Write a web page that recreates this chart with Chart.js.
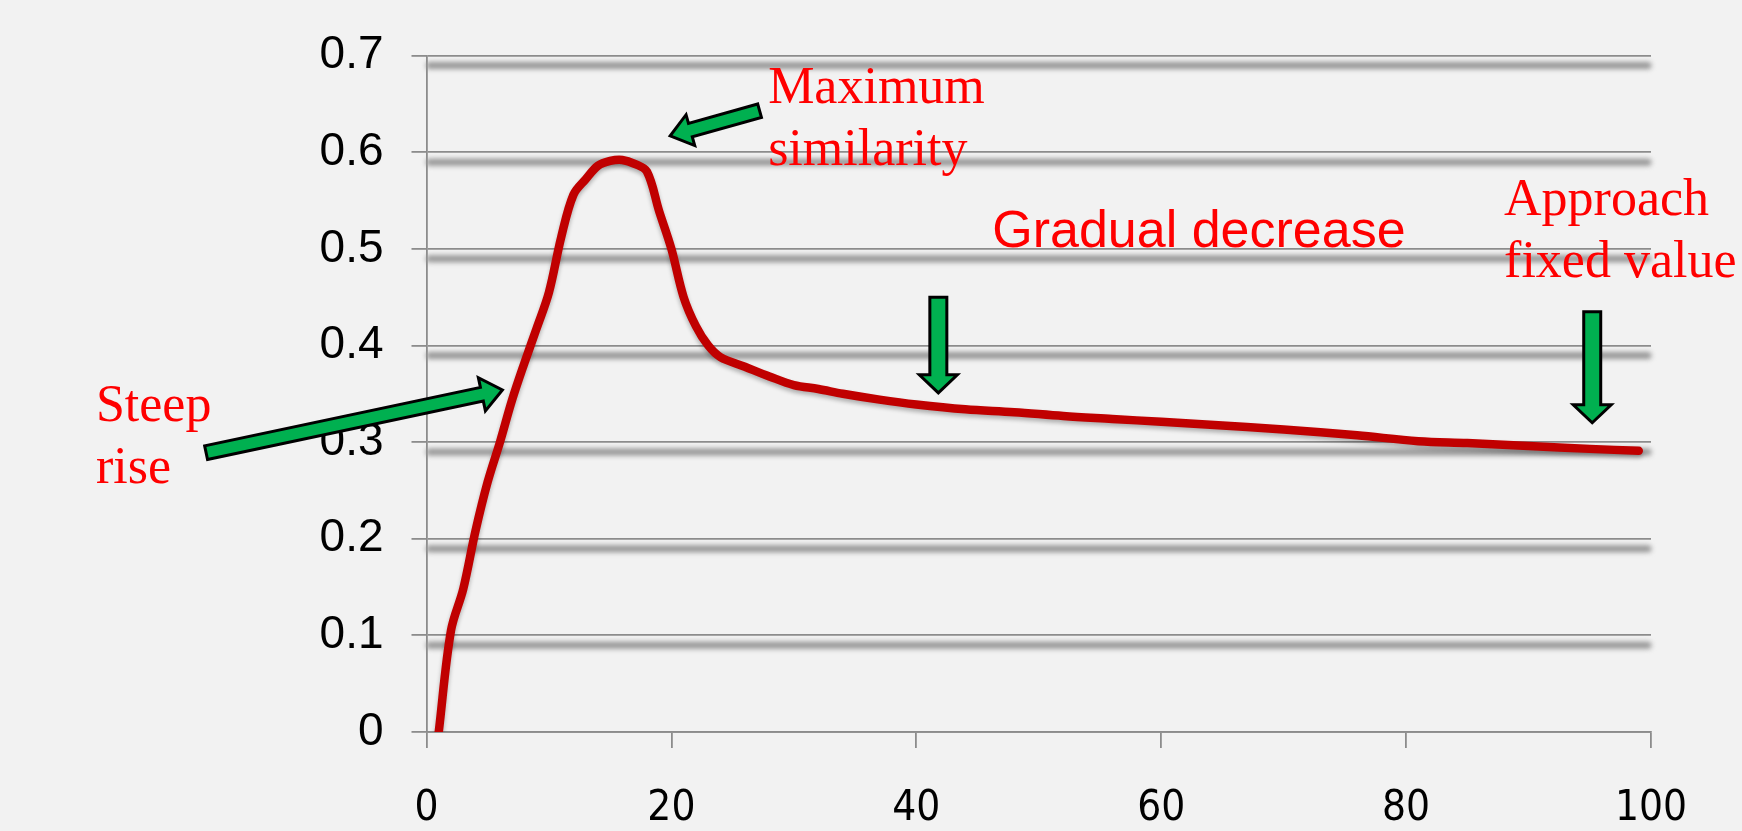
<!DOCTYPE html>
<html>
<head>
<meta charset="utf-8">
<script src="https://cdn.jsdelivr.net/npm/chart.js@4.4.0/dist/chart.umd.min.js"></script>
<style>
  html, body { margin: 0; padding: 0; background: #f2f2f2; }
  #wrap { width: 1742px; height: 831px; }
</style>
</head>
<body>
<div id="wrap"><canvas id="ch_similarity" width="1742" height="831"></canvas></div>
<script>
// x positions along the curve and the similarity read at each one
const xValues = [1, 2, 3, 4, 5, 6, 7, 8, 9, 10, 11, 12, 13, 14, 15, 16, 17, 18, 19, 20,
                 21, 22, 23, 24, 26, 28, 30, 32, 34, 37, 40, 44, 48, 52, 56, 60, 64, 70,
                 76, 81, 85, 90, 95, 99];
const similarity = [0, 0.105, 0.148, 0.208, 0.259, 0.300, 0.344, 0.382, 0.418, 0.455,
                    0.512, 0.556, 0.572, 0.586, 0.591, 0.592, 0.588, 0.580, 0.539, 0.500,
                    0.450, 0.420, 0.400, 0.388, 0.378, 0.368, 0.359, 0.355, 0.350, 0.344,
                    0.339, 0.334, 0.331, 0.327, 0.324, 0.321, 0.318, 0.313, 0.307, 0.301,
                    0.299, 0.296, 0.293, 0.291];

const xTickLabels = ['0', '20', '40', '60', '80', '100'];
const yTickLabels = ['0', '0.1', '0.2', '0.3', '0.4', '0.5', '0.6', '0.7'];

const LINE_RED = '#c00000';
const NOTE_RED = '#ff0000';
const GREEN    = '#00b050';
const GRID     = '#8c8c8c';
const SERIF    = '"Liberation Serif", "Times New Roman", serif';
const SANS     = '"Liberation Sans", Arial, sans-serif';
const NARROW   = '"DejaVu Sans Condensed", "Liberation Sans Narrow", sans-serif';

// annotation text, anchored in data units (left edge / first baseline)
const notes = [
  { lines: ['Maximum', 'similarity'],   x: 27.9,  y: 0.651, font: SERIF },
  { lines: ['Gradual decrease'],        x: 46.2,  y: 0.502, font: SANS },
  { lines: ['Approach', 'fixed value'], x: 88.0,  y: 0.535, font: SERIF },
  { lines: ['Steep', 'rise'],           x: -27.0, y: 0.322, font: SERIF }
];
const LINE_GAP = 0.0645;

// green block arrows: tail -> tip in data units, sizes in px
const arrows = [
  { from: [27.2, 0.643], to: [19.9, 0.617], shaft: 14, head: 32, len: 21 },
  { from: [-18.0, 0.289], to: [6.2, 0.354], shaft: 14, head: 34, len: 21 },
  { from: [41.8, 0.450], to: [41.8, 0.351], shaft: 17, head: 38, len: 18 },
  { from: [95.2, 0.435], to: [95.2, 0.320], shaft: 17, head: 38, len: 18 }
];

/* ── helpers ─────────────────────────────────────────────────── */
function blockArrow(ctx, x0, y0, x1, y1, shaft, head, headLen) {
  const dx = x1 - x0, dy = y1 - y0, L = Math.hypot(dx, dy);
  const ux = dx / L, uy = dy / L, nx = -uy, ny = ux;
  const bx = x1 - ux * headLen, by = y1 - uy * headLen;
  const s = shaft / 2, h = head / 2;
  const pts = [
    [x0 + nx * s, y0 + ny * s], [bx + nx * s, by + ny * s], [bx + nx * h, by + ny * h],
    [x1, y1],
    [bx - nx * h, by - ny * h], [bx - nx * s, by - ny * s], [x0 - nx * s, y0 - ny * s]
  ];
  ctx.beginPath();
  pts.forEach((p, i) => i ? ctx.lineTo(p[0], p[1]) : ctx.moveTo(p[0], p[1]));
  ctx.closePath();
  ctx.fillStyle = GREEN;
  ctx.fill();
  ctx.lineWidth = 3;
  ctx.lineJoin = 'miter';
  ctx.strokeStyle = '#000';
  ctx.stroke();
}

// soft grey band under each horizontal gridline
const gridShadow = {
  id: 'gridShadow',
  beforeDatasetsDraw(chart) {
    const { ctx, chartArea: a, scales: { y } } = chart;
    ctx.save();
    ctx.filter = 'blur(2.5px)';
    ctx.strokeStyle = '#969696';
    ctx.lineWidth = 7;
    ctx.lineCap = 'round';
    y.ticks.forEach(t => {
      if (t.value === 0) return;
      const py = y.getPixelForValue(t.value) + 10;
      ctx.beginPath();
      ctx.moveTo(a.left + 3, py);
      ctx.lineTo(a.right - 3, py);
      ctx.stroke();
    });
    ctx.restore();
  }
};

// faint drop shadow on the red curve
const lineShadow = {
  id: 'lineShadow',
  beforeDatasetDraw(chart) {
    const ctx = chart.ctx;
    ctx.save();
    ctx.shadowColor = 'rgba(0,0,0,0.28)';
    ctx.shadowBlur = 4;
    ctx.shadowOffsetY = 3;
  },
  afterDatasetDraw(chart) { chart.ctx.restore(); }
};

const callouts = {
  id: 'callouts',
  afterDraw(chart) {
    const { ctx, scales: { x, y } } = chart;
    ctx.save();
    arrows.forEach(a => {
      blockArrow(ctx,
        x.getPixelForValue(a.from[0]), y.getPixelForValue(a.from[1]),
        x.getPixelForValue(a.to[0]),   y.getPixelForValue(a.to[1]),
        a.shaft, a.head, a.len);
    });
    ctx.fillStyle = NOTE_RED;
    ctx.textAlign = 'left';
    ctx.textBaseline = 'alphabetic';
    notes.forEach(n => {
      ctx.font = `52px ${n.font}`;
      n.lines.forEach((t, i) => {
        ctx.fillText(t, x.getPixelForValue(n.x), y.getPixelForValue(n.y - i * LINE_GAP));
      });
    });
    ctx.restore();
  }
};

/* ── chart ───────────────────────────────────────────────────── */
new Chart(document.getElementById('ch_similarity').getContext('2d'), {
  type: 'line',
  data: {
    datasets: [{
      data: xValues.map((v, i) => ({ x: v, y: similarity[i] })),
      borderColor: LINE_RED,
      borderWidth: 8.5,
      borderCapStyle: 'round',
      borderJoinStyle: 'round',
      pointRadius: 0,
      tension: 0.35,
      fill: false
    }]
  },
  options: {
    responsive: false,
    animation: false,
    layout: { padding: { left: 0, right: 91, top: 49, bottom: 0 } },
    plugins: { legend: { display: false }, tooltip: { enabled: false } },
    scales: {
      x: {
        type: 'linear', min: 0, max: 100,
        afterFit: s => { s.height = 99; },
        ticks: {
          stepSize: 20, padding: 36, color: '#000', maxRotation: 0, autoSkip: false,
          font: { family: NARROW, size: 42 },
          callback: v => xTickLabels[Math.round(v / 20)]
        },
        grid: { drawOnChartArea: false, tickLength: 16, color: GRID, lineWidth: 1.8 },
        border: { color: GRID, width: 1.8 }
      },
      y: {
        min: 0, max: 0.7,
        afterFit: s => { s.width = 426.5; },
        ticks: {
          stepSize: 0.1, padding: 28, color: '#000',
          font: { family: SANS, size: 46 },
          callback: (v, i) => yTickLabels[i]
        },
        grid: { color: GRID, lineWidth: 1.8, tickLength: 15 },
        border: { color: GRID, width: 1.8 }
      }
    }
  },
  plugins: [gridShadow, lineShadow, callouts]
});
</script>
</body>
</html>
